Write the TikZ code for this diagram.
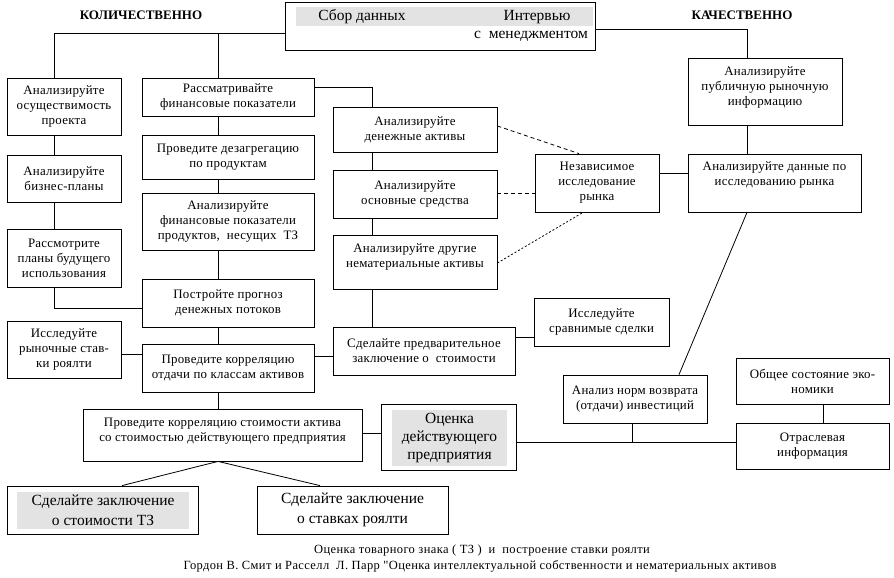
\documentclass[tikz,border=0pt]{standalone}
\usepackage{fontspec}
\setmainfont{Liberation Serif}
\newfontfamily\capfont[Ligatures=TeXOff]{Liberation Serif}
\newcommand\fs{\fontsize{12.9}{15}\selectfont\addfontfeatures{LetterSpace=2}}
\newcommand\fl{\fontsize{15.5}{20}\selectfont}
\newcommand\fj{\fontsize{15.5}{18}\selectfont}
\newcommand\ft{\fontsize{15.5}{17}\selectfont}
\newcommand\fc{\capfont\fontsize{12.5}{14}\selectfont\addfontfeatures{LetterSpace=3}}
\newcommand\fh{\bfseries\fontsize{13}{15}\selectfont}
\begin{document}
\begin{tikzpicture}[x=1pt,y=-1pt,
  box/.style={draw, line width=0.8pt, align=center, inner sep=0pt, font=\fs},
  txt/.style={align=center, inner sep=0pt, font=\fs},
  greyfill/.style={fill=black!11, inner sep=0pt},
  ln/.style={line width=0.8pt},
  dsh/.style={line width=0.8pt, dash pattern=on 4pt off 3pt},
  dtt/.style={line width=0.8pt, dash pattern=on 2pt off 2pt}]
\useasboundingbox (0,0) rectangle (894,578);
% helper columns / rows
\coordinate (cA) at (54,0);
\coordinate (cB) at (218,0);
\coordinate (cD) at (372,0);
\coordinate (cG) at (747,0);
\coordinate (cI) at (679,0);
\coordinate (cI2) at (632,0);
\coordinate (cK) at (823,0);
\coordinate (cM) at (122,0);
\coordinate (cN) at (320,0);
\coordinate (cF1) at (579,0);
\coordinate (cF3) at (583,0);
\coordinate (yb) at (0,33);
\coordinate (yr) at (0,29);
\coordinate (y87) at (0,87);
\coordinate (y126) at (0,126);
\coordinate (y173) at (0,173);
\coordinate (y193) at (0,193);
\coordinate (y263) at (0,263);
\coordinate (y308) at (0,308);
\coordinate (y337) at (0,337);
\coordinate (y354) at (0,354);
\coordinate (y356) at (0,356);
\coordinate (y433) at (0,433);
\coordinate (y442) at (0,442);

% headers
\node[font=\fh, inner sep=0pt] (hq) at (141,15) {КОЛИЧЕСТВЕННО};
\node[font=\fh, inner sep=0pt] (hk) at (742,15) {КАЧЕСТВЕННО};

% top box
\node[draw, line width=0.8pt, minimum width=310pt, minimum height=48pt, inner sep=0pt] (T) at (440,26) {};
\node[greyfill, minimum width=297pt, minimum height=19pt] (Tg) at (444.5,16.5) {};
\node[font=\ft, inner sep=0pt] (Tt1) at (362,17) {Сбор данных};
\node[font=\ft, inner sep=0pt] (Tt2) at (537,17) {Интервью};
\node[font=\ft, inner sep=0pt] (Tt3) at (531,36) {с\ \ менеджментом};

% left column
\node[box, minimum width=114pt, minimum height=57pt] (A1) at (64,106.5) {Анализируйте\\осуществимость\\проекта};
\node[box, minimum width=114pt, minimum height=47pt] (A2) at (64,178.5) {Анализируйте\\бизнес-планы};
\node[box, minimum width=114pt, minimum height=58pt] (A3) at (64,258) {Рассмотрите\\планы будущего\\использования};
\node[box, minimum width=114pt, minimum height=57pt] (A4) at (64,349.5) {Исследуйте\\рыночные став-\\ки роялти};

% column B
\node[box, minimum width=172pt, minimum height=38pt] (B1) at (228,97) {Рассматривайте\\финансовые показатели};
\node[box, minimum width=172pt, minimum height=44pt] (B2) at (228,157) {Проведите дезагрегацию\\по продуктам};
\node[box, minimum width=172pt, minimum height=57pt] (B3) at (228,221.5) {Анализируйте\\финансовые показатели\\продуктов,\ \ несущих\ \ ТЗ};
\node[box, minimum width=172pt, minimum height=48pt] (B4) at (228,303) {Постройте прогноз\\денежных потоков};
\node[box, minimum width=172pt, minimum height=48pt] (B5) at (228,368) {Проведите корреляцию\\отдачи по классам активов};
\node[box, minimum width=279pt, minimum height=52pt] (C) at (222.5,435) {};
\node[txt] (Ct) at ([yshift=4pt]C.center) {Проведите корреляцию стоимости актива\\со стоимостью действующего предприятия};

% column D
\node[box, minimum width=164pt, minimum height=45pt] (D1) at (415,129.5) {Анализируйте\\денежные активы};
\node[box, minimum width=164pt, minimum height=48pt] (D2) at (415,194) {Анализируйте\\основные средства};
\node[box, minimum width=164pt, minimum height=54pt] (D3) at (415,262) {};
\node[txt] (D3t) at ([yshift=5pt]D3.center) {Анализируйте другие\\нематериальные активы};
\node[box, minimum width=182pt, minimum height=48pt] (D4) at (424,351) {Сделайте предварительное\\заключение о\ \ стоимости};
\node[box, minimum width=135pt, minimum height=48pt] (E) at (601.5,322) {Исследуйте\\сравнимые сделки};

% right side
\node[box, minimum width=124pt, minimum height=58pt] (F) at (597,183) {Независимое\\исследование\\рынка};
\node[box, minimum width=173pt, minimum height=58pt] (G) at (774.5,183) {};
\node[txt] (Gt) at ([yshift=8pt]G.center) {Анализируйте данные по\\исследованию рынка};
\node[box, minimum width=154pt, minimum height=67pt] (H) at (765,91.5) {};
\node[txt] (Ht) at ([yshift=4pt]H.center) {Анализируйте\\публичную рыночную\\информацию};
\node[box, minimum width=144pt, minimum height=48pt] (I) at (635,399) {Анализ норм возврата\\(отдачи) инвестиций};
\node[box, minimum width=153pt, minimum height=46pt] (K) at (812.5,381) {Общее состояние эко-\\номики};
\node[box, minimum width=153pt, minimum height=46pt] (L) at (812.5,446) {Отраслевая\\информация};

% J
\node[draw, line width=0.8pt, minimum width=135pt, minimum height=66pt, inner sep=0pt] (J) at (448.5,437) {};
\node[greyfill, minimum width=115pt, minimum height=56pt, align=center, font=\fj] (Jt) at (449.5,438) {Оценка\\действующего\\предприятия};

% bottom boxes
\node[draw, line width=0.8pt, minimum width=191pt, minimum height=48pt, inner sep=0pt] (M) at (102.5,510) {};
\node[greyfill, minimum width=172pt, minimum height=37pt, align=center, font=\fl] (Mt) at (103,510.5) {Сделайте заключение\\о стоимости ТЗ};
\node[box, minimum width=191pt, minimum height=48pt, font=\fl] (N) at (352.5,510) {Сделайте заключение\\о ставках роялти};

% caption
\node[font=\fc, inner sep=0pt] (cap1) at (482,550) {Оценка товарного знака ( ТЗ )\ \ и\ \ построение ставки роялти};
\node[font=\fc, inner sep=0pt] (cap2) at (480,566) {Гордон В. Смит и Расселл\ \ Л. Парр "Оценка интеллектуальной собственности и нематериальных активов};

% connectors
\draw[ln] (T.west |- yb) -| (A1.north -| cA);
\draw[ln] (B1.north -| cB) -- (cB |- yb);
\draw[ln] (T.east |- yr) -| (H.north -| cG);
\draw[ln] (H.south -| cG) -- (G.north -| cG);
\draw[ln] (F.east |- y173) -- (G.west |- y173);
\draw[ln] (G.south -| cG) -- (I.north -| cI);
\draw[ln] (I.south -| cI2) -- (cI2 |- y442);
\draw[ln] (J.east |- y442) -- (L.west |- y442);
\draw[ln] (K.south -| cK) -- (L.north -| cK);
\draw[ln] (C.east |- y433) -- (J.west |- y433);
\draw[ln] (A1.south -| cA) -- (A2.north -| cA);
\draw[ln] (A2.south -| cA) -- (A3.north -| cA);
\draw[ln] (A3.south -| cA) |- (B4.west |- y308);
\draw[ln] (A4.east |- y354) -- (B5.west |- y354);
\draw[ln] (B1.south -| cB) -- (B2.north -| cB);
\draw[ln] (B2.south -| cB) -- (B3.north -| cB);
\draw[ln] (B3.south -| cB) -- (B4.north -| cB);
\draw[ln] (B4.south -| cB) -- (B5.north -| cB);
\draw[ln] (B5.south -| cB) -- (C.north -| cB);
\draw[ln] (B1.east |- y87) -| (D1.north -| cD);
\draw[ln] (D1.south -| cD) -- (D2.north -| cD);
\draw[ln] (D2.south -| cD) -- (D3.north -| cD);
\draw[ln] (D3.south -| cD) -- (D4.north -| cD);
\draw[ln] (D4.west |- y356) -- (B5.east |- y356);
\draw[ln] (D4.east |- y337) -- (E.west |- y337);
\draw[dsh] (D1.east |- y126) -- (F.north -| cF1);
\draw[dsh] (D2.east |- y193) -- (F.west |- y193);
\draw[dtt] (D3.east |- y263) -- (F.south -| cF3);
\draw[ln] (C.south -| cB) -- (M.north -| cM);
\draw[ln] (C.south -| cB) -- (N.north -| cN);
\end{tikzpicture}
\end{document}
